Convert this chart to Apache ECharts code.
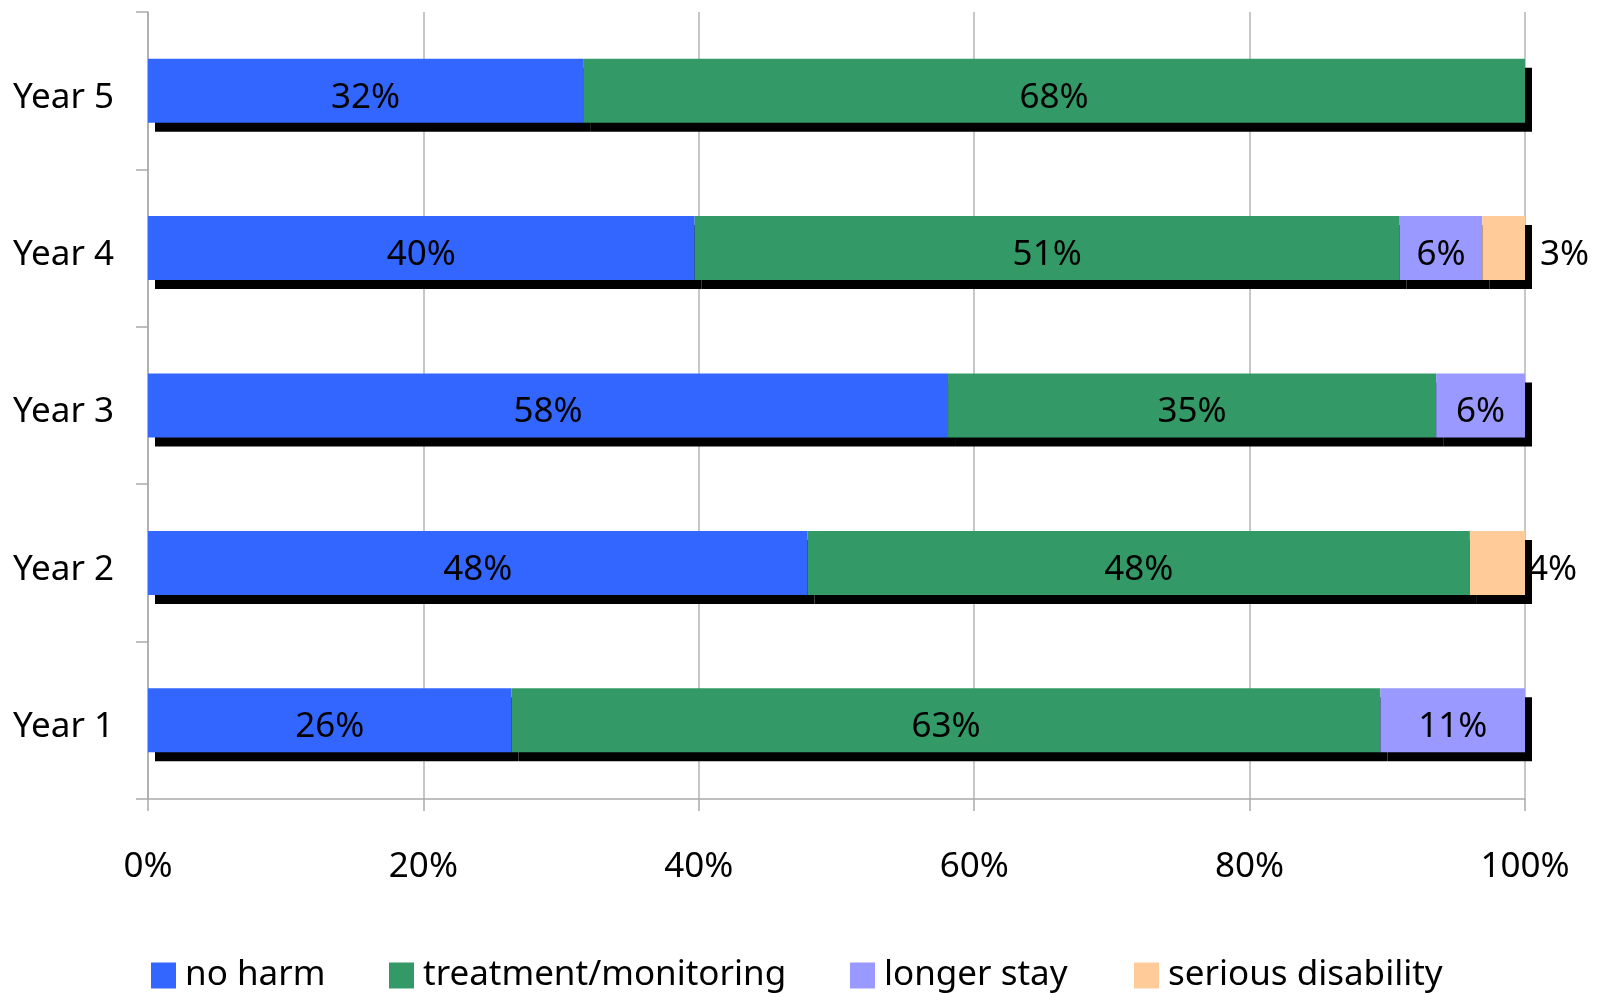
<!DOCTYPE html>
<html>
<head>
<meta charset="utf-8">
<script src="https://cdn.jsdelivr.net/npm/echarts@6/dist/echarts.min.js"></script>
<style>
  html, body { margin: 0; padding: 0; background: #fff; }
  #main { width: 1612px; height: 993px; }
</style>
</head>
<body>
<div id="main"></div>
<script>
// data
var years = ['Year 1', 'Year 2', 'Year 3', 'Year 4', 'Year 5'];
var seriesNames = ['no harm', 'treatment/monitoring', 'longer stay', 'serious disability'];
var noHarm = [26.4, 47.9, 58.1, 39.7, 31.6];
var treatment = [63.1, 48.1, 35.45, 51.2, 68.4];
var longerStay = [10.5, 0, 6.45, 6.0, 0];
var seriousDisability = [0, 4.0, 0, 3.1, 0];
var xTicks = [0, 20, 40, 60, 80, 100];

var colors = ['#3366ff', '#339966', '#9999ff', '#ffcc99'];
var legendLeft = [151, 389, 850, 1134];
var fontFam = '"Noto Sans", sans-serif';

var myChart = echarts.init(document.getElementById('main'));

function makeSeries(name, values, idx) {
  return {
    name: name,
    type: 'bar',
    stack: 'total',
    barWidth: 64,
    itemStyle: {
      color: colors[idx],
      shadowColor: '#000',
      shadowBlur: 0,
      shadowOffsetX: 7,
      shadowOffsetY: 9
    },
    label: {
      show: true,
      position: 'inside',
      offset: [0, 7],
      color: '#000',
      fontFamily: fontFam,
      fontSize: 35,
      formatter: function (p) {
        return p.value > 0 ? Math.round(p.value) + '%' : '';
      }
    },
    data: values.map(function (v, i) {
      // small end segments get their label outside the bar, like the original
      if (idx === 3 && v > 0) {
        return { value: v, label: { position: 'right', offset: [0, 7], distance: i === 3 ? 15 : 3 } };
      }
      return v;
    })
  };
}

var option = {
  animation: false,
  color: colors,
  grid: { left: 148, right: 87, top: 12, bottom: 194 },
  legend: seriesNames.map(function (n, i) {
    return {
      data: [n],
      left: legendLeft[i],
      top: 958,
      padding: 0,
      itemWidth: 25,
      itemHeight: 26,
      icon: 'rect',
      itemStyle: { shadowBlur: 0, shadowOffsetX: 0, shadowOffsetY: 0 },
      textStyle: { fontFamily: fontFam, fontSize: 35, lineHeight: 35, color: '#000', padding: [0, 0, 0, 4] }
    };
  }),
  xAxis: {
    type: 'value',
    min: 0,
    max: 100,
    interval: 20,
    axisLine: { show: true, lineStyle: { color: '#aaa', width: 1.5 } },
    axisTick: { show: true, length: 12, lineStyle: { color: '#aaa', width: 1.5 } },
    splitLine: { show: true, lineStyle: { color: '#b4b4b4', width: 1.5 } },
    axisLabel: {
      margin: 51,
      color: '#000',
      fontFamily: fontFam,
      fontSize: 35,
      formatter: function (v) { return xTicks.indexOf(v) >= 0 ? v + '%' : ''; }
    }
  },
  yAxis: {
    type: 'category',
    data: years,
    axisLine: { show: true, lineStyle: { color: '#aaa', width: 1.5 } },
    axisTick: { show: true, length: 12, lineStyle: { color: '#aaa', width: 1.5 } },
    axisLabel: {
      margin: 34,
      verticalAlign: 'top',
      lineHeight: 14,
      color: '#000',
      fontFamily: fontFam,
      fontSize: 35
    }
  },
  series: [
    makeSeries(seriesNames[0], noHarm, 0),
    makeSeries(seriesNames[1], treatment, 1),
    makeSeries(seriesNames[2], longerStay, 2),
    makeSeries(seriesNames[3], seriousDisability, 3)
  ]
};

myChart.setOption(option);
window.addEventListener('resize', myChart.resize);
</script>
</body>
</html>
